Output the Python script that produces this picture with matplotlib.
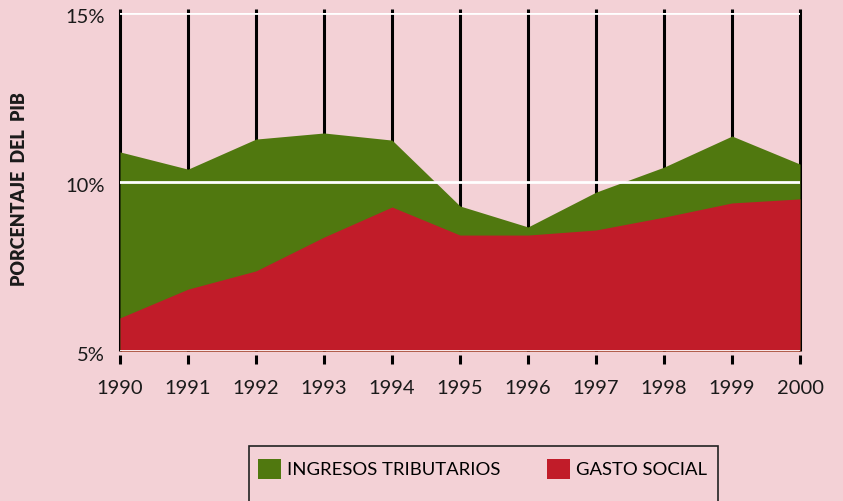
import matplotlib
matplotlib.use("Agg")
import matplotlib.pyplot as plt
import matplotlib.transforms as mtransforms
from matplotlib.patches import Rectangle, Patch

years = [1990, 1991, 1992, 1993, 1994, 1995, 1996, 1997, 1998, 1999, 2000]
ingresos = [10.89, 10.38, 11.27, 11.45, 11.24, 9.29, 8.67, 9.70, 10.44, 11.36, 10.53]
gasto = [5.98, 6.83, 7.37, 8.37, 9.26, 8.43, 8.43, 8.58, 8.96, 9.38, 9.50]
ytick_vals = [5, 10, 15]
ytick_labels = ["5%", "10%", "15%"]
series_names = ["INGRESOS TRIBUTARIOS", "GASTO SOCIAL"]

BG = "#f3d1d6"
GREEN = "#50780f"
RED = "#c11c29"
FONT = ["Lato", "DejaVu Sans"]

plt.rcParams["font.family"] = FONT

fig = plt.figure(figsize=(8.43, 5.01), dpi=100, facecolor=BG)
ax = fig.add_axes([120 / 843, 1 - 351 / 501, 680 / 843, 338 / 501])
ax.set_facecolor(BG)
ax.set_xlim(1990, 2000)
ax.set_ylim(5, 15)

# vertical black lines
ax.vlines(years, 5, 15.12, color="black", lw=2.2, zorder=1, clip_on=False)
# areas
ax.fill_between(years, 5, ingresos, color=GREEN, lw=0, zorder=2)
ax.fill_between(years, 5, gasto, color=RED, lw=0, zorder=3)
# white gridlines
for v in ytick_vals:
    ax.axhline(v, color="white", lw=2, zorder=4)
# small tick marks below axis
ax.vlines(years, 5 - 4 / 33.8, 5 - 13 / 33.8, color="black", lw=2.2, clip_on=False, zorder=5)

for s in ax.spines.values():
    s.set_visible(False)

ax.set_xticks(years)
ax.set_xticklabels([str(y) for y in years])
ax.set_yticks(ytick_vals)
ax.set_yticklabels(ytick_labels)
ax.tick_params(axis="x", length=0, pad=21, labelsize=14.5, colors="#1a1a1a")
ax.tick_params(axis="y", length=0, pad=11, labelsize=14.5, colors="#1a1a1a")
offset = mtransforms.ScaledTranslation(0, -3 / 100, fig.dpi_scale_trans)
for lbl in ax.get_yticklabels():
    lbl.set_transform(lbl.get_transform() + offset)

fig.text(20 / 843, 1 - 189 / 501, "PORCENTAJE  DEL  PIB", rotation=90, ha="center", va="center",
         fontsize=13, fontweight="heavy", color="#1a1a1a")

# legend box
fig.patches.append(Rectangle((249 / 843, -0.05), (718 - 249) / 843, 0.05 + 1 - 446 / 501,
                             transform=fig.transFigure, facecolor=BG, edgecolor="#222222",
                             lw=1.2, zorder=0))
handles = [Patch(facecolor=GREEN, edgecolor="none"), Patch(facecolor=RED, edgecolor="none")]
fig.legend(handles, series_names, loc="center left", bbox_to_anchor=(245 / 843, 1 - 469 / 501),
           ncol=2, frameon=False, fontsize=13.3, handlelength=1.24, handleheight=1.24,
           handletextpad=0.32, columnspacing=2.55, borderpad=0.2)

fig.savefig("out.png", dpi=100, facecolor=BG)
